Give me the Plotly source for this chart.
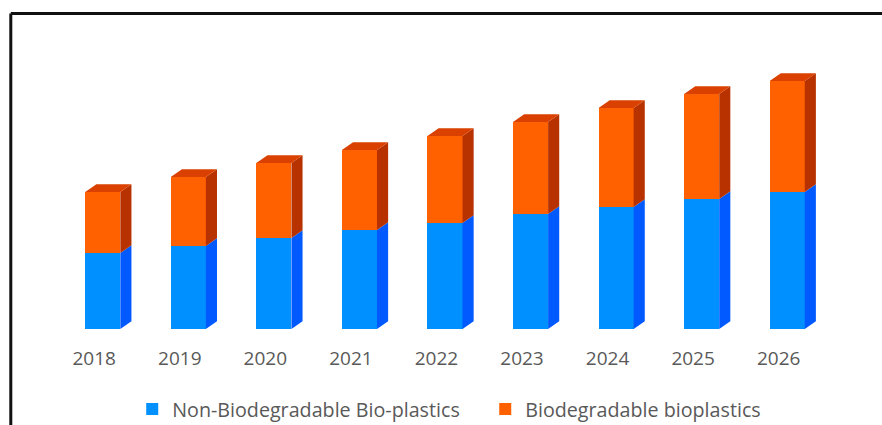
import plotly.graph_objects as go

# Market volume by year, split by bioplastic type
years = ["2018", "2019", "2020", "2021", "2022", "2023", "2024", "2025", "2026"]
non_biodegradable = [7.6, 8.3, 9.1, 9.9, 10.6, 11.5, 12.2, 13.0, 13.7]
biodegradable = [6.1, 6.9, 7.5, 8.0, 8.7, 9.2, 9.9, 10.5, 11.1]

# Styling
BLUE_FRONT, BLUE_SIDE = "#0090FF", "#005AFF"
ORANGE_FRONT, ORANGE_SIDE, ORANGE_TOP = "#FF6000", "#B83200", "#DA4100"
TEXT_GREY = "#595959"
FONT = "Open Sans, Arial, sans-serif"

BAR_W = 0.41       # front face width (x units)
DEPTH_X = 0.13     # 3D extrusion to the right (x units)
DEPTH_Y = 0.78     # 3D extrusion upward (y units)
LABEL_SHIFT = 0.1  # category labels sit slightly left of the bar fronts

xs = list(range(len(years)))
tops = [a + b for a, b in zip(non_biodegradable, biodegradable)]


def side_faces(bottoms, heights):
    px, py = [], []
    for x, y0, y1 in zip(xs, bottoms, heights):
        r = x + BAR_W / 2
        px += [r, r + DEPTH_X, r + DEPTH_X, r, r, None]
        py += [y0, y0 + DEPTH_Y, y1 + DEPTH_Y, y1, y0, None]
    return px, py


def top_faces(levels):
    px, py = [], []
    for x, y in zip(xs, levels):
        l, r = x - BAR_W / 2, x + BAR_W / 2
        px += [l, l + DEPTH_X, r + DEPTH_X, r, l, None]
        py += [y, y + DEPTH_Y, y + DEPTH_Y, y, y, None]
    return px, py


fig = go.Figure()

fig.add_trace(go.Bar(
    x=xs, y=non_biodegradable, width=BAR_W, name="Non-Biodegradable Bio-plastics",
    marker=dict(color=BLUE_FRONT, line=dict(width=0)),
))
fig.add_trace(go.Bar(
    x=xs, y=biodegradable, width=BAR_W, name="Biodegradable bioplastics",
    marker=dict(color=ORANGE_FRONT, line=dict(width=0)),
))

# Extruded side and top faces
for (px, py), color in [
    (side_faces([0] * len(xs), non_biodegradable), BLUE_SIDE),
    (side_faces(non_biodegradable, tops), ORANGE_SIDE),
    (top_faces(tops), ORANGE_TOP),
]:
    fig.add_trace(go.Scatter(
        x=px, y=py, mode="lines", fill="toself", fillcolor=color,
        line=dict(width=0, color=color), showlegend=False, hoverinfo="skip",
    ))

# Frame lines along the top and left edges
frame = dict(type="line", xref="paper", yref="paper", line=dict(color="#111111", width=3))
fig.add_shape(**frame, x0=-0.0639, x1=1.08, y0=1.0517, y1=1.0517)
fig.add_shape(**frame, x0=-0.0639, x1=-0.0639, y0=1.0517, y1=-0.35)

fig.update_layout(
    width=882, height=425,
    margin=dict(l=59.7, r=51.9, t=29, b=96, autoexpand=False),
    barmode="stack",
    paper_bgcolor="white", plot_bgcolor="white",
    font=dict(family=FONT, color=TEXT_GREY),
    showlegend=True,
    legend=dict(
        orientation="h", x=0.0938, xanchor="left", y=-0.267, yanchor="middle",
        font=dict(family=FONT, size=19.7, color=TEXT_GREY),
        traceorder="normal", entrywidth=308, itemwidth=30,
    ),
    xaxis=dict(
        range=[-0.5, 8.5], tickvals=[x - LABEL_SHIFT for x in xs], ticktext=years,
        showgrid=False, zeroline=False, showline=False, ticks="",
        tickfont=dict(family=FONT, size=19, color=TEXT_GREY),
        ticklabelstandoff=16, automargin=False,
    ),
    yaxis=dict(range=[0, 30], visible=False),
)

fig.write_html("out.html")
